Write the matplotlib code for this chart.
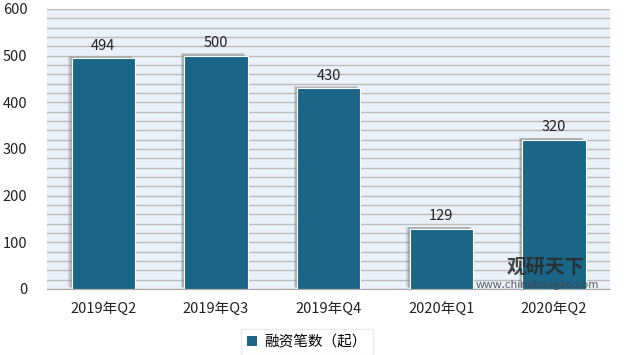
import matplotlib.pyplot as plt
import matplotlib.patheffects as pe
import numpy as np

plt.rcParams['font.family'] = ['Noto Sans CJK SC', 'DejaVu Sans']

quarters = ['2019年Q2', '2019年Q3', '2019年Q4', '2020年Q1', '2020年Q2']
deals = [494, 500, 430, 129, 320]

fig = plt.figure(figsize=(6.26, 3.55), dpi=100)
ax = fig.add_axes([0.075, 0.186, 0.9, 0.789])
ax.set_facecolor('#EAF1F8')

x = np.arange(len(quarters))
bars = ax.bar(x, deals, width=0.56, color='#1B6587', edgecolor='white', linewidth=0.8,
              label='融资笔数（起）', zorder=3)
# soft shadow on the upper left side
for b in bars:
    b.set_path_effects([pe.SimplePatchShadow(offset=(-2.5, 1.5), shadow_rgbFace='#888888', alpha=0.3),
                        pe.SimplePatchShadow(offset=(-1.5, 1), shadow_rgbFace='#777777', alpha=0.35),
                        pe.Normal()])

for xi, v in zip(x, deals):
    ax.text(xi, v + 12, str(v), ha='center', va='bottom', fontsize=10.5, color='#222222', zorder=4)

ax.set_ylim(0, 600)
ax.set_xlim(-0.5, len(quarters) - 0.5)
ax.set_yticks(range(0, 601, 100))
ax.set_yticks(range(0, 601, 20), minor=True)
ax.grid(axis='y', which='both', color='#BBBBBB', linewidth=1.0, zorder=0)
ax.set_axisbelow(True)
ax.set_xticks(x)
ax.set_xticklabels(quarters, fontsize=10.5)
ax.tick_params(axis='both', which='both', length=0, labelsize=10.5, colors='#222222')
ax.tick_params(axis='x', pad=10)
ax.tick_params(axis='y', pad=14)
for s in ['top', 'right', 'left']:
    ax.spines[s].set_visible(False)
ax.spines['bottom'].set_color('#AAAAAA')

leg = fig.legend(loc='lower center', bbox_to_anchor=(0.49, -0.02), frameon=True, fontsize=10.5,
                 handlelength=0.7, handleheight=0.7, handletextpad=0.5, fancybox=False)
leg.get_frame().set_edgecolor('#E6E6E6')
for h in leg.legend_handles:
    h.set_path_effects([])
    h.set_edgecolor('none')

ax.text(0.885, 0.045, '观研天下', transform=ax.transAxes, ha='center', va='bottom',
        fontsize=14, fontweight='bold', color='#2a2a2a', alpha=0.85, zorder=5)
ax.text(0.87, -0.005, 'www.chinabaogao.com', transform=ax.transAxes, ha='center', va='bottom',
        fontsize=8, color='#444444', alpha=0.85, zorder=5)

fig.savefig('out.png', dpi=100)
